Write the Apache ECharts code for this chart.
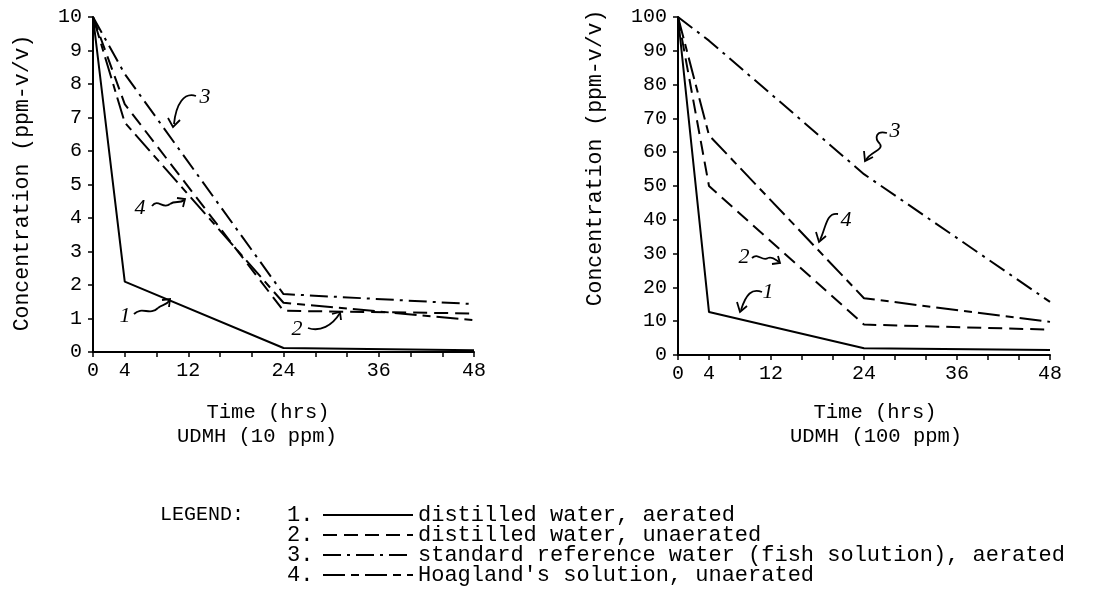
<!DOCTYPE html>
<html>
<head>
<meta charset="utf-8">
<script src="https://cdn.jsdelivr.net/npm/echarts@6/dist/echarts.min.js"></script>
<style>
html,body{margin:0;padding:0;background:#fff;}
#chart{width:1094px;height:607px;}
</style>
</head>
<body>
<div id="chart"></div>
<script>
// ---- data ----
const times = [0, 4, 24, 48];
const xTickLabels = [0, 4, 12, 24, 36, 48];
const seriesNames = [
  "distilled water, aerated",
  "distilled water, unaerated",
  "standard reference water (fish solution), aerated",
  "Hoagland's solution, unaerated"
];
// UDMH 10 ppm
const low1 = [10, 2.1, 0.12, 0.05];
const low2 = [10, 7.4, 1.23, 1.15];
const low3 = [10, 8.3, 1.73, 1.43];
const low4 = [10, 6.85, 1.47, 0.95];
// UDMH 100 ppm
const high1 = [100, 12.7, 2.0, 1.5];
const high2 = [100, 50, 9, 7.5];
const high3 = [100, 93, 53.5, 15.7];
const high4 = [100, 65, 16.8, 9.8];

const MONO = "'Liberation Mono','DejaVu Sans Mono',monospace";
const HAND = "'Liberation Serif','DejaVu Serif',serif";
const dashes = ['solid', [14, 7], [18, 6, 3, 6], [22, 6, 8, 6]];

function pts(arr){ return times.map((t,i)=>[t, arr[i]]); }

const lowSets = [low1, low2, low3, low4];
const highSets = [high1, high2, high3, high4];

const series = [];
lowSets.forEach((s,i)=>series.push({
  name: seriesNames[i], type:'line', xAxisIndex:0, yAxisIndex:0,
  data: pts(s), symbol:'none', animation:false,
  lineStyle:{color:'#000', width:2, type:dashes[i]}, itemStyle:{color:'#000'}
}));
highSets.forEach((s,i)=>series.push({
  name: seriesNames[i], type:'line', xAxisIndex:1, yAxisIndex:1,
  data: pts(s), symbol:'none', animation:false,
  lineStyle:{color:'#000', width:2, type:dashes[i]}, itemStyle:{color:'#000'}
}));

function xAxisDef(g){
  return {
    type:'value', gridIndex:g, min:0, max:48, interval:4,
    axisLine:{show:true, onZero:false, lineStyle:{color:'#000', width:2}},
    axisTick:{show:true, length:5, lineStyle:{color:'#000', width:1.5}},
    splitLine:{show:false},
    axisLabel:{color:'#000', fontFamily:MONO, fontSize:20, margin:9,
      formatter: v => xTickLabels.indexOf(v) >= 0 ? String(v) : ''}
  };
}
function yAxisDef(g, max, interval){
  return {
    type:'value', gridIndex:g, min:0, max:max, interval:interval,
    axisLine:{show:true, onZero:false, lineStyle:{color:'#000', width:2}},
    axisTick:{show:true, length:5, lineStyle:{color:'#000', width:1.5}},
    splitLine:{show:false},
    axisLabel:{color:'#000', fontFamily:MONO, fontSize:20, margin:11}
  };
}

function txt(x, y, s, size, align){
  return {type:'text', x:x, y:y, silent:true,
    style:{text:s, fill:'#000', font:(size||20) + 'px ' + MONO, textAlign:align||'center', textVerticalAlign:'middle'}};
}
function note(x, y, s){
  return {type:'text', x:x, y:y, silent:true,
    style:{text:s, fill:'#000', font:'italic 22px ' + HAND, textAlign:'center', textVerticalAlign:'middle'}};
}
function bz(a){
  return {type:'bezierCurve', silent:true,
    shape:{x1:a[0], y1:a[1], cpx1:a[2], cpy1:a[3], cpx2:a[4], cpy2:a[5], x2:a[6], y2:a[7]},
    style:{stroke:'#000', lineWidth:1.8, fill:null}};
}
function head(p){
  return {type:'polyline', silent:true, shape:{points:p},
    style:{stroke:'#000', lineWidth:1.8, fill:null}};
}

const LEG_Y0 = 515, LEG_STEP = 20;
const graphics = [
  // axis titles
  {type:'text', x:22, y:183, rotation:Math.PI/2, silent:true,
    style:{text:'Concentration (ppm-v/v)', fill:'#000', font:'21.5px ' + MONO, textAlign:'center', textVerticalAlign:'middle'}},
  {type:'text', x:595, y:158, rotation:Math.PI/2, silent:true,
    style:{text:'Concentration (ppm-v/v)', fill:'#000', font:'21.5px ' + MONO, textAlign:'center', textVerticalAlign:'middle'}},
  txt(268, 413, 'Time (hrs)', 20.5),
  txt(257, 437, 'UDMH (10 ppm)', 20.5),
  txt(875, 413, 'Time (hrs)', 20.5),
  txt(876, 437, 'UDMH (100 ppm)', 20.5),
  // legend prefix text
  txt(160, LEG_Y0, 'LEGEND:', 20, 'left'),
  txt(287, LEG_Y0, '1.', 22, 'left'),
  txt(287, LEG_Y0 + LEG_STEP, '2.', 22, 'left'),
  txt(287, LEG_Y0 + 2*LEG_STEP, '3.', 22, 'left'),
  txt(287, LEG_Y0 + 3*LEG_STEP, '4.', 22, 'left'),
  // left chart callouts
  note(205, 97, '3'),
  bz([196,96, 184,92, 176,104, 174,124]), head([[168,118],[173,127],[180,120]]),
  note(140, 208, '4'),
  bz([152,206, 158,198, 163,210, 170,204]), bz([170,204, 175,200, 180,204, 184,200]),
  head([[177,198],[185,199],[183,207]]),
  note(125, 316, '1'),
  bz([134,314, 142,306, 150,316, 158,308]), bz([158,308, 162,304, 166,306, 170,300]),
  head([[162,300],[170,299],[169,307]]),
  note(297, 329, '2'),
  bz([308,328, 320,332, 332,326, 340,313]), head([[332,314],[340,312],[341,320]]),
  // right chart callouts
  note(895, 131, '3'),
  bz([887,133, 876,130, 874,138, 880,144]), bz([880,144, 884,150, 870,152, 866,160]),
  head([[864,151],[865,161],[873,157]]),
  note(846, 220, '4'),
  bz([838,214, 826,212, 826,228, 820,240]), head([[816,232],[819,242],[826,236]]),
  note(744, 257, '2'),
  bz([752,258, 758,252, 762,262, 768,258]), bz([768,258, 772,256, 776,260, 779,262]),
  head([[772,264],[780,263],[778,256]]),
  note(768, 292, '1'),
  bz([762,292, 752,288, 746,294, 741,310]), head([[737,302],[740,312],[747,306]])
];

const option = {
  backgroundColor:'#fff',
  animation:false,
  grid:[
    {left:93, top:17, width:381, height:335},
    {left:678, top:17, width:372, height:338}
  ],
  xAxis:[xAxisDef(0), xAxisDef(1)],
  yAxis:[yAxisDef(0, 10, 1), yAxisDef(1, 100, 10)],
  legend:{
    data: seriesNames, orient:'vertical', left:322, top:504,
    itemWidth:90, itemHeight:14, itemGap:-2, padding:0, selectedMode:false,
    itemStyle:{opacity:0},
    textStyle:{color:'#000', fontFamily:MONO, fontSize:22, lineHeight:20}
  },
  graphic: graphics,
  series: series
};

const chart = echarts.init(document.getElementById('chart'), null, {renderer:'canvas'});
chart.setOption(option);
</script>
</body>
</html>
